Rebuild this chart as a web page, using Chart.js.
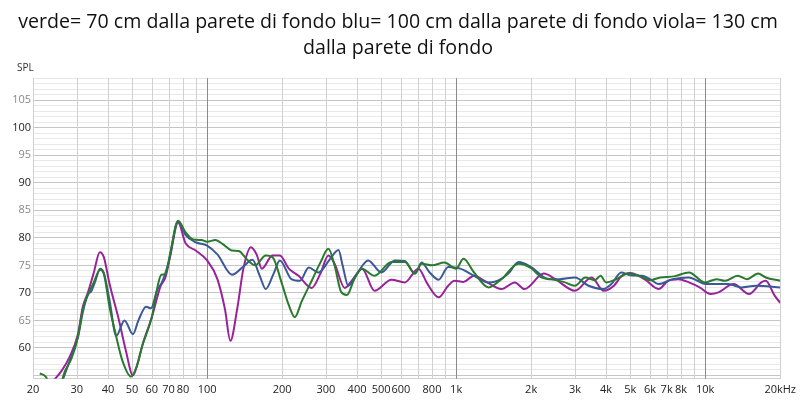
<!DOCTYPE html>
<html>
<head>
<meta charset="utf-8">
<script src="https://cdn.jsdelivr.net/npm/chart.js@4"></script>
<style>
  body { margin: 0; background: #fff; }
  #wrap { width: 800px; height: 400px; }
</style>
</head>
<body>
<div id="wrap"><canvas id="myChart" width="800" height="400"></canvas></div>
<script>
// verde = 70 cm
const greenHz = [21.3,22.5,24,25.5,27,28.5,30.3,31.7,33.2,35,37.2,38.5,40.6,43.2,45.7,49.5,52,55,60,63.5,65.5,68,71,76.5,82,88,95,100,108,116,126,134,145,156,172,183,200,212,225,240,263,285,307,325,345,364,390,419,470,550,622,683,727,800,896,1000,1070,1180,1350,1520,1780,2000,2200,2400,2700,3000,3300,3600,3800,4000,4400,4900,5500,6000,6600,7500,8600,10000,11100,12000,13500,14700,16300,17500,20000];
const greenDb = [55.4,54.8,52.5,53,56,58,62,67,69.6,71.8,74.2,73.5,67.4,62,57.7,54.8,56.5,60.5,65.6,71.5,73.3,73.4,77,83.1,81,79.7,79.6,79.3,79.6,78.8,77.7,77.6,76,75,76.8,76.5,71.6,68,65.6,68.5,72.2,75.5,78,75,70.2,69.6,72.5,74.4,73.1,75.6,75.6,73.5,75.3,75,75.5,74.4,76.2,73.7,71,72.5,75.3,74.5,72.8,72.5,72,71.3,72.8,72.3,73.1,71.9,72.5,73.5,73,72.3,72.8,73,73.7,71.9,72.5,72.2,73.1,72.5,73.5,72.8,72.2];

// blu = 100 cm
const blueHz = [25.5,26.5,28,30.3,31.7,33.2,34.3,35.5,37.2,38.5,40.6,43.2,46.6,50.4,53,56.9,59.5,63,66,70,76.5,82,90,100,110,126,140,152,163,172,185,196,218,236,256,280,310,337,350,369,400,443,501,567,622,683,727,780,850,929,1040,1180,1350,1470,1620,1780,2000,2350,2600,3000,3400,3900,4200,4600,5000,5600,6000,6500,7400,8600,9300,10000,12400,14000,16000,20000];
const blueDb = [52,54.5,57.5,62,66.5,69.7,70.3,72,74.4,73.6,68.6,62.2,65,62.5,65,67.5,67.2,70.5,72,75.5,83,80.5,79.2,78.6,77,73.3,74.8,76,73,70.7,73.5,75.9,72.5,72.2,74.6,73.7,76,77.8,75,71.3,73.5,75.9,73.7,75.9,75.8,73.5,75.5,73.8,72.4,74.7,74.4,73.1,71.9,72.2,73.5,75.6,74.7,72.5,72.5,72.8,71.3,70.7,71.6,73.7,73.2,73.1,72.5,71.6,72.5,72.8,72.2,71.6,71.6,71,71.3,71];

// viola = 130 cm
const violaHz = [23.5,24.4,26,28,30.3,31.7,33.2,35,37.1,38.5,40.6,44.3,47.2,50.4,52.5,55,60,65,68,71,76.5,82,90,100,110,118,124,132,140,150,158,166,183,196,213,233,263,285,307,325,357,385,419,470,550,622,705,770,850,929,985,1070,1180,1300,1520,1720,1880,2250,2500,3000,3500,3900,4300,4600,5000,5700,6500,7100,7800,8600,9500,10500,11300,13000,15000,16800,17500,19000,20000];
const violaDb = [53.5,54.3,55.8,58.3,62.5,67.5,70,73.5,77.4,76.5,71.6,65,59.5,55,57,60.5,65.6,71.2,72.8,76.5,82.8,79,77.7,75.9,72.5,67,61.3,67,74.5,78.3,77,74.4,76.8,76.8,74.4,73.1,70.9,73.5,76.8,75.3,70.9,72.5,74.4,70.4,72.4,71.9,74.4,71.5,69.2,71.3,72.2,72,73.1,72.2,70.7,71.9,70.7,73.5,72.5,70.4,72.8,70.4,71.3,73,73.6,72.5,70.7,72.2,72.5,71.9,71,69.8,70.1,71.6,69.8,71.9,72.2,69.5,68.2];

const xTicks = [20,30,40,50,60,70,80,90,100,200,300,400,500,600,700,800,900,1000,2000,3000,4000,5000,6000,7000,8000,9000,10000,20000];
const xLabels = {20:'20',30:'30',40:'40',50:'50',60:'60',70:'70',80:'80',100:'100',200:'200',300:'300',400:'400',500:'500',600:'600',800:'800',1000:'1k',2000:'2k',3000:'3k',4000:'4k',5000:'5k',6000:'6k',7000:'7k',8000:'8k',10000:'10k',20000:'20kHz'};
const decades = [100, 1000, 10000];
const yTicks = [];
for (let v = 55; v <= 109; v++) yTicks.push(v);

const title = [
  'verde= 70 cm dalla parete di fondo blu= 100 cm dalla parete di fondo viola= 130 cm',
  'dalla parete di fondo'
];

function pts(hz, db) {
  return hz.map((f, i) => ({x: f, y: db[i]}));
}

// vertical grid lines drawn over the horizontal ones so they stay solid
const vGrid = {
  id: 'vGrid',
  beforeDatasetsDraw(chart) {
    const c = chart.ctx, a = chart.chartArea, sx = chart.scales.x;
    c.save();
    c.lineWidth = 1;
    xTicks.forEach(v => {
      const px = Math.round(sx.getPixelForValue(v)) + 0.5;
      c.strokeStyle = decades.includes(v) ? '#8a8a8a' : '#d0d0d0';
      c.beginPath();
      c.moveTo(px, a.top);
      c.lineTo(px, a.bottom);
      c.stroke();
    });
    c.restore();
  },
  afterDraw(chart) {
    const c = chart.ctx;
    c.save();
    c.font = '10px "Open Sans"';
    c.fillStyle = '#333';
    c.textBaseline = 'middle';
    c.fillText('SPL', 17, 68);
    c.restore();
  }
};

const ctx = document.getElementById('myChart');

new Chart(ctx, {
  type: 'line',
  data: {
    datasets: [
      { label: 'verde', data: pts(greenHz, greenDb), borderColor: '#2a7a2e' },
      { label: 'blu', data: pts(blueHz, blueDb), borderColor: '#3b5998' },
      { label: 'viola', data: pts(violaHz, violaDb), borderColor: '#992299' }
    ]
  },
  options: {
    responsive: false,
    animation: false,
    devicePixelRatio: 1,
    datasets: {
      line: { borderWidth: 2, pointRadius: 0, cubicInterpolationMode: 'monotone', fill: false }
    },
    layout: { padding: { left: 0, right: 4, top: 0, bottom: 0 } },
    plugins: {
      legend: { display: false },
      tooltip: { enabled: false },
      title: {
        display: true,
        text: title,
        color: '#111',
        font: { family: 'Open Sans', size: 19.6, weight: 'normal', lineHeight: 1.33 },
        padding: { top: 9, bottom: 17 }
      }
    },
    scales: {
      x: {
        type: 'logarithmic',
        min: 20,
        max: 20000,
        afterBuildTicks: s => { s.ticks = xTicks.map(v => ({ value: v })); },
        ticks: {
          autoSkip: false,
          maxRotation: 0,
          padding: 4,
          color: '#222',
          font: { family: 'Open Sans', size: 11 },
          callback: v => xLabels[v] || ''
        },
        grid: { drawTicks: false, color: 'rgba(0,0,0,0)' },
        border: { color: '#d0d0d0' }
      },
      y: {
        min: 54.4,
        max: 109,
        afterBuildTicks: s => { s.ticks = yTicks.map(v => ({ value: v })); },
        afterFit: s => { s.width = 33; },
        ticks: {
          autoSkip: false,
          padding: 2,
          font: { family: 'Open Sans', size: 11 },
          color: c => (c.tick.value % 10 === 0) ? '#222' : '#888',
          callback: v => (v % 5 === 0 && v >= 60 && v <= 105) ? String(v) : ''
        },
        grid: {
          drawTicks: false,
          color: c => (c.tick && c.tick.value % 5 === 0) ? '#c6c6c6' : '#e8e8e8'
        },
        border: { color: '#bdbdbd' }
      }
    }
  },
  plugins: [vGrid]
});
</script>
</body>
</html>
